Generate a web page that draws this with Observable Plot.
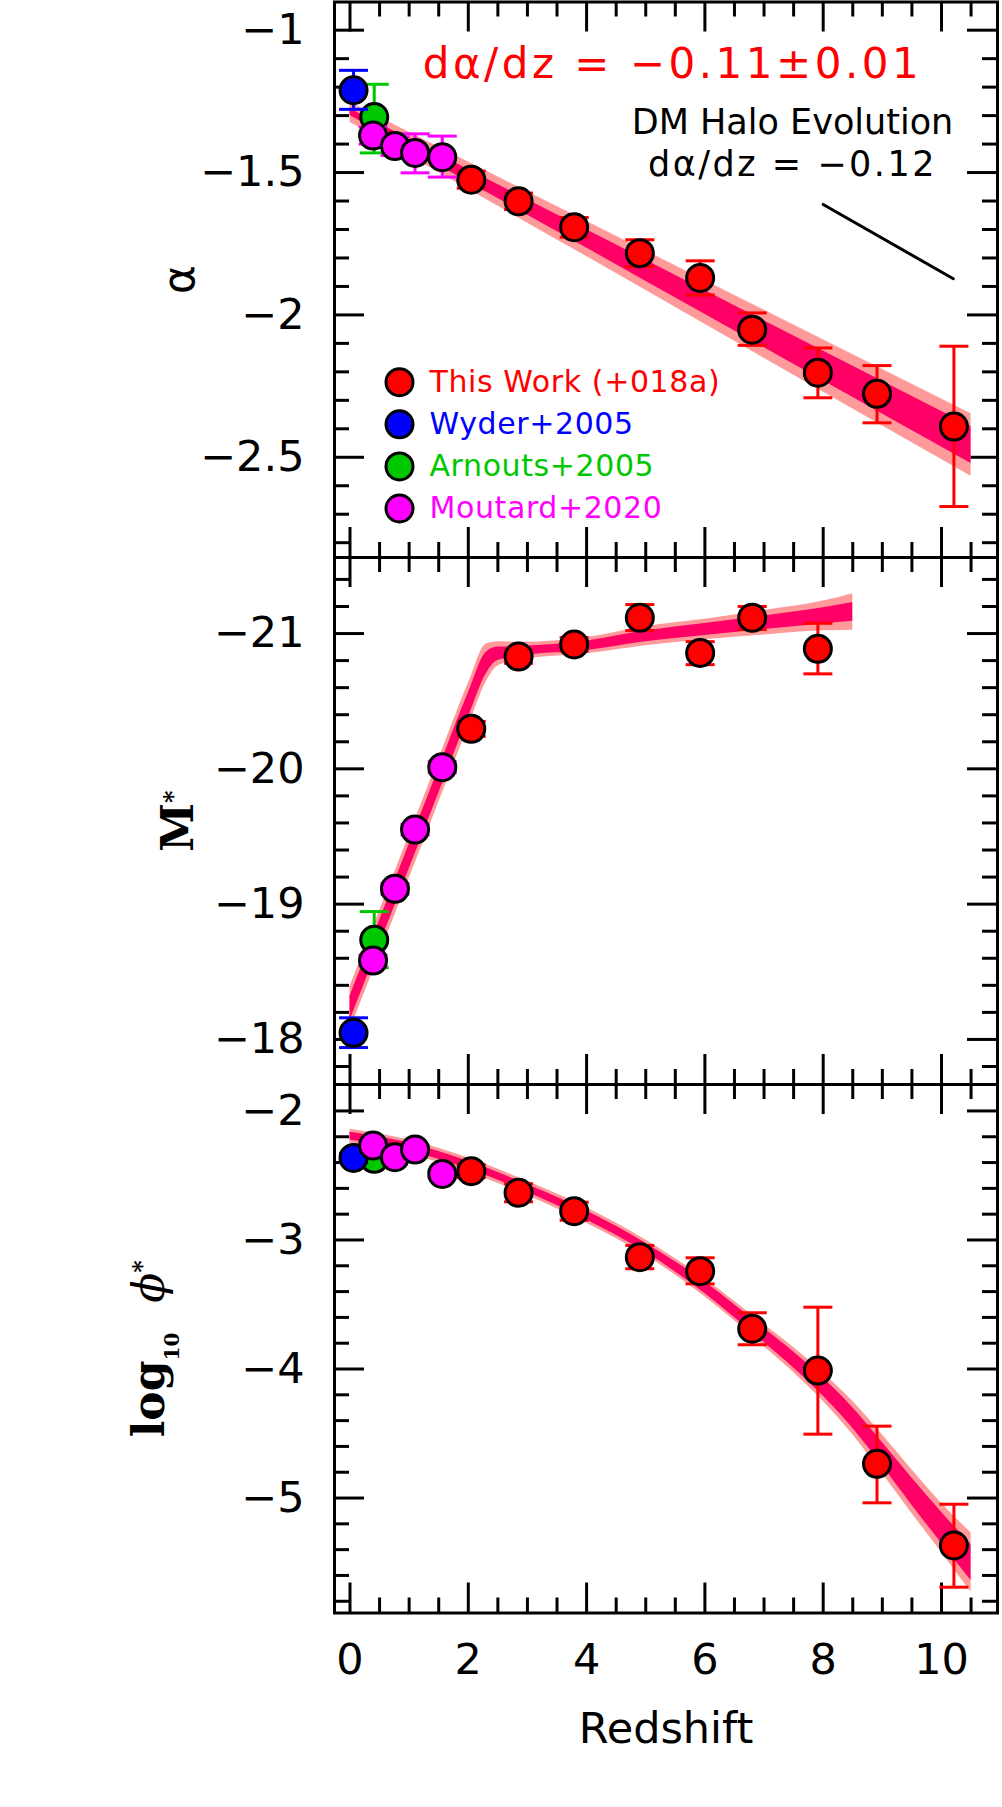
<!DOCTYPE html>
<html>
<head>
<meta charset="utf-8">
<script src="https://cdn.jsdelivr.net/npm/d3@7"></script>
<script src="https://cdn.jsdelivr.net/npm/@observablehq/plot@0.6"></script>
<style>
html, body { margin: 0; padding: 0; background: #fff; }
#chart { position: relative; width: 1002px; height: 1807px; }
#chart svg { position: absolute; left: 0; }
</style>
</head>
<body>
<div id="chart"></div>
<script>
// ---------------- data ----------------
// This Work (red)
const redZ        = [2.05, 2.85, 3.79, 4.90, 5.92, 6.80, 7.91, 8.91, 10.21];
const redAlpha    = [-1.525, -1.601, -1.692, -1.783, -1.870, -2.052, -2.203, -2.277, -2.392];
const redAlphaLo  = [-1.555, -1.630, -1.727, -1.830, -1.930, -2.107, -2.291, -2.379, -2.673];
const redAlphaHi  = [-1.495, -1.572, -1.658, -1.736, -1.810, -1.993, -2.116, -2.178, -2.110];
const redMZ       = [2.05, 2.85, 3.79, 4.90, 5.92, 6.80, 7.91];
const redM        = [-20.296, -20.830, -20.919, -21.116, -20.857, -21.116, -20.887];
const redMLo      = [-20.24, -20.78, -20.87, -21.022, -20.77, -21.03, -20.702];
const redMHi      = [-20.35, -20.88, -20.97, -21.214, -20.94, -21.20, -21.076];
const redPhi      = [-2.467, -2.634, -2.777, -3.133, -3.242, -3.688, -4.012, -4.735, -5.368];
const redPhiLo    = [-2.517, -2.704, -2.847, -3.223, -3.340, -3.812, -4.505, -5.037, -5.691];
const redPhiHi    = [-2.417, -2.564, -2.707, -3.043, -3.138, -3.564, -3.521, -4.443, -5.048];
// Wyder+2005 (blue)
const blueZ = [0.06];
const blueAlpha = [-1.211], blueAlphaLo = [-1.278], blueAlphaHi = [-1.141];
const blueM = [-18.049], blueMLo = [-17.94], blueMHi = [-18.16];
const bluePhi = [-2.364], bluePhiLo = [-2.40], bluePhiHi = [-2.33];
// Arnouts+2005 (green)
const greenZ = [0.41];
const greenAlpha = [-1.305], greenAlphaLo = [-1.431], greenAlphaHi = [-1.190];
const greenM = [-18.736], greenMLo = [-18.53], greenMHi = [-18.945];
const greenPhi = [-2.371], greenPhiLo = [-2.41], greenPhiHi = [-2.33];
// Moutard+2020 (magenta)
const magZ = [0.39, 0.76, 1.10, 1.56];
const magAlpha = [-1.370, -1.407, -1.431, -1.446];
const magAlphaLo = [-1.400, -1.440, -1.501, -1.516];
const magAlphaHi = [-1.340, -1.375, -1.364, -1.372];
const magM = [-18.583, -19.113, -19.551, -20.012];
const magMLo = [-18.543, -19.073, -19.511, -19.972];
const magMHi = [-18.623, -19.153, -19.591, -20.052];
const magPhi = [-2.268, -2.358, -2.299, -2.488];
const magPhiLo = [-2.298, -2.388, -2.329, -2.518];
const magPhiHi = [-2.238, -2.328, -2.269, -2.458];

// fit bands: centre and half-widths (inner dark / outer light)
const alphaBandZ     = [0, 2, 4, 6, 8, 10.5];
const alphaBandMid   = [-1.288, -1.511, -1.733, -1.956, -2.179, -2.457];
const alphaBandInner = [0.012, 0.022, 0.032, 0.042, 0.052, 0.065];
const alphaBandOuter = [0.035, 0.048, 0.062, 0.077, 0.092, 0.11];

const mBandZ     = [0, 0.5, 1, 1.5, 2, 2.3, 2.5, 2.9, 4, 5, 6, 7, 8, 8.5];
const mBandMid   = [-18.23, -18.79, -19.35, -19.91, -20.47, -20.78, -20.85, -20.87, -20.91, -20.98, -21.03, -21.08, -21.13, -21.16];
const mBandInner = [0.09, 0.09, 0.09, 0.09, 0.09, 0.08, 0.05, 0.035, 0.035, 0.04, 0.045, 0.05, 0.06, 0.07];
const mBandOuter = [0.16, 0.16, 0.16, 0.16, 0.16, 0.14, 0.09, 0.065, 0.06, 0.07, 0.075, 0.09, 0.11, 0.135];

const phiBandZ     = [0, 1, 2, 3, 4, 5, 6, 7, 7.5, 8, 8.5, 9, 9.5, 10, 10.5];
const phiBandMid   = [-2.196, -2.28, -2.42, -2.60, -2.81, -3.06, -3.37, -3.74, -3.93, -4.14, -4.38, -4.66, -4.95, -5.23, -5.50];
const phiBandInner = [0.03, 0.03, 0.03, 0.03, 0.035, 0.035, 0.045, 0.055, 0.062, 0.07, 0.08, 0.09, 0.105, 0.12, 0.14];
const phiBandOuter = [0.055, 0.055, 0.055, 0.055, 0.06, 0.06, 0.07, 0.085, 0.097, 0.11, 0.13, 0.15, 0.17, 0.19, 0.23];

// DM halo evolution slope line
const dmZ = [8.0, 10.2];
const dmAlpha = [-1.612, -1.873];

// legend
const legendLabels = ["This Work (+018a)", "Wyder+2005", "Arnouts+2005", "Moutard+2020"];
const legendColors = ["#ff0000", "#0000ff", "#00c800", "#ff00ff"];

// ticks
const xMajor = [0, 2, 4, 6, 8, 10];
const xMinor = [0.5, 1, 1.5, 2.5, 3, 3.5, 4.5, 5, 5.5, 6.5, 7, 7.5, 8.5, 9, 9.5, 10.5];
const alphaMajor = [-1, -1.5, -2, -2.5];
const alphaMinor = [-1.1, -1.2, -1.3, -1.4, -1.6, -1.7, -1.8, -1.9, -2.1, -2.2, -2.3, -2.4, -2.6, -2.7, -2.8];
const mMajor = [-21, -20, -19, -18];
const mMinor = [-21.4, -21.2, -20.8, -20.6, -20.4, -20.2, -19.8, -19.6, -19.4, -19.2, -18.8, -18.6, -18.4, -18.2, -17.8];
const phiMajor = [-2, -3, -4, -5];
const phiMinor = [-2.2, -2.4, -2.6, -2.8, -3.2, -3.4, -3.6, -3.8, -4.2, -4.4, -4.6, -4.8, -5.2, -5.4, -5.6, -5.8];

// ---------------- helpers ----------------
const COLORS = {red: "#ff0000", blue: "#0000ff", green: "#00c800", magenta: "#ff00ff"};
const BAND_IN = "#ff0066", BAND_OUT = "#ff9a9a";
const W = 1002, ML = 334, MR = 5;
const X_DOMAIN = [-0.262, 10.947];
const cap = {draw(ctx) { ctx.moveTo(-14.5, 0); ctx.lineTo(14.5, 0); }};
const minus = d => String(d).replace("-", "\u2212");

function rows(z, y, lo, hi) { return z.map((d, i) => ({z: d, y: y[i], lo: lo[i], hi: hi[i]})); }
function band(z, mid, inner, outer) {
  return z.map((d, i) => ({z: d, oLo: mid[i] - outer[i], oHi: mid[i] + outer[i], iLo: mid[i] - inner[i], iHi: mid[i] + inner[i]}));
}
function bandMarks(b) {
  return [
    Plot.areaY(b, {x: "z", y1: "oLo", y2: "oHi", fill: BAND_OUT, curve: "monotone-x"}),
    Plot.areaY(b, {x: "z", y1: "iLo", y2: "iHi", fill: BAND_IN, curve: "monotone-x"})
  ];
}
function series(r, color) {
  return [
    Plot.ruleX(r, {x: "z", y1: "lo", y2: "hi", stroke: color, strokeWidth: 3}),
    Plot.dot(r, {x: "z", y: "lo", symbol: cap, r: 1, fill: "none", stroke: color, strokeWidth: 3}),
    Plot.dot(r, {x: "z", y: "hi", symbol: cap, r: 1, fill: "none", stroke: color, strokeWidth: 3}),
    Plot.dot(r, {x: "z", y: "y", r: 13.5, fill: color, stroke: "black", strokeWidth: 3})
  ];
}
function frameTicks(height, mt, mb, yMajor, yMinor) {
  const pw = W - ML - MR, ph = height - mt - mb;
  const s = {strokeWidth: 3, stroke: "black"};
  return [
    Plot.tickY(yMajor, {y: d => d, insetRight: pw - 30, ...s}),
    Plot.tickY(yMajor, {y: d => d, insetLeft: pw - 30, ...s}),
    Plot.tickY(yMinor, {y: d => d, insetRight: pw - 15, ...s}),
    Plot.tickY(yMinor, {y: d => d, insetLeft: pw - 15, ...s}),
    Plot.tickX(xMajor, {x: d => d, insetBottom: ph - 30, ...s}),
    Plot.tickX(xMajor, {x: d => d, insetTop: ph - 30, ...s}),
    Plot.tickX(xMinor, {x: d => d, insetBottom: ph - 15, ...s}),
    Plot.tickX(xMinor, {x: d => d, insetTop: ph - 15, ...s}),
    Plot.frame({stroke: "black", strokeWidth: 3}),
    Plot.axisY(yMajor, {anchor: "left", tickSize: 0, tickPadding: 30, fontSize: 43, label: null, tickFormat: minus})
  ];
}
function panel({height, mt, mb, yDomain, yMajor, yMinor, marks}) {
  return Plot.plot({
    width: W, height, marginLeft: ML, marginRight: MR, marginTop: mt, marginBottom: mb,
    x: {domain: X_DOMAIN, axis: null},
    y: {domain: yDomain, axis: null},
    style: {fontFamily: "DejaVu Sans", background: "transparent", overflow: "visible", color: "black"},
    marks: [...frameTicks(height, mt, mb, yMajor, yMinor), ...marks]
  });
}
function restyle(svg, content, fn) {
  d3.select(svg).selectAll("text")
    .filter(function () { return this.textContent === content; })
    .each(function () { fn(d3.select(this)); });
}

// ---------------- panel 1: alpha ----------------
const legendMarks = legendLabels.flatMap((lab, i) => [
  Plot.dot([lab], {frameAnchor: "top-left", dx: 65, dy: 380.2 + 42.1 * i, r: 13.5, fill: legendColors[i], stroke: "black", strokeWidth: 3}),
  Plot.text([lab], {text: d => d, frameAnchor: "top-left", lineAnchor: "middle", dx: 95, dy: 380.2 + 42.1 * i, textAnchor: "start", fill: legendColors[i], fontSize: 30, fontFamily: "DejaVu Sans"})
]);

const RED_TXT = "d\u03b1/dz = \u22120.11\u00b10.01";
const DM_TXT = "d\u03b1/dz = \u22120.12";
const p1 = panel({
  height: 557, mt: 1.5, mb: 0, yDomain: [-2.852, -0.901], yMajor: alphaMajor, yMinor: alphaMinor,
  marks: [
    ...bandMarks(band(alphaBandZ, alphaBandMid, alphaBandInner, alphaBandOuter)),
    Plot.line(dmZ.map((z, i) => ({z, a: dmAlpha[i]})), {x: "z", y: "a", stroke: "black", strokeWidth: 3}),
    Plot.text([RED_TXT], {text: d => d, frameAnchor: "top-left", lineAnchor: "middle", dx: 338, dy: 62.1, textAnchor: "middle", fill: "#ff0000", fontSize: 42, fontFamily: "DejaVu Sans"}),
    Plot.text(["DM Halo Evolution"], {text: d => d, frameAnchor: "top-left", lineAnchor: "middle", dx: 458, dy: 120.3, textAnchor: "middle", fill: "black", fontSize: 35, fontFamily: "DejaVu Sans"}),
    Plot.text([DM_TXT], {text: d => d, frameAnchor: "top-left", lineAnchor: "middle", dx: 458, dy: 162.3, textAnchor: "middle", fill: "black", fontSize: 35, fontFamily: "DejaVu Sans"}),
    Plot.text(["\u03b1"], {text: d => d, frameAnchor: "left", lineAnchor: "middle", textAnchor: "middle", dx: -155, rotate: -90, fontSize: 44, fontFamily: "DejaVu Sans", fill: "black"}),
    ...legendMarks,
    ...series(rows(redZ, redAlpha, redAlphaLo, redAlphaHi), COLORS.red),
    ...series(rows(greenZ, greenAlpha, greenAlphaLo, greenAlphaHi), COLORS.green),
    ...series(rows(blueZ, blueAlpha, blueAlphaLo, blueAlphaHi), COLORS.blue),
    ...series(rows(magZ, magAlpha, magAlphaLo, magAlphaHi), COLORS.magenta)
  ]
});
restyle(p1, RED_TXT, t => t.style("letter-spacing", "3.5px"));
restyle(p1, DM_TXT, t => t.style("letter-spacing", "2.5px"));
legendLabels.forEach(l => restyle(p1, l, t => t.style("letter-spacing", "0.6px")));

// ---------------- panel 2: M* ----------------
const p2 = panel({
  height: 527, mt: 0, mb: 0, yDomain: [-17.667, -21.562], yMajor: mMajor, yMinor: mMinor,
  marks: [
    ...bandMarks(band(mBandZ, mBandMid, mBandInner, mBandOuter)),
    Plot.text(["M*"], {text: d => d, frameAnchor: "left", lineAnchor: "middle", textAnchor: "middle", dx: -156, rotate: -90, fontSize: 44, fontWeight: "bold", fontFamily: "DejaVu Serif", fill: "black"}),
    ...series(rows(redMZ, redM, redMLo, redMHi), COLORS.red),
    ...series(rows(greenZ, greenM, greenMLo, greenMHi), COLORS.green),
    ...series(rows(blueZ, blueM, blueMLo, blueMHi), COLORS.blue),
    ...series(rows(magZ, magM, magMLo, magMHi), COLORS.magenta)
  ]
});
restyle(p2, "M*", t => {
  t.text(null);
  t.append("tspan").text("M");
  t.append("tspan").attr("font-size", 24).attr("dy", -12).text("*");
});

// ---------------- panel 3: log10 phi* ----------------
const PHI_TXT = "log10 \u03d5*";
const p3 = panel({
  height: 723, mt: 0, mb: 194.5, yDomain: [-5.891, -1.795], yMajor: phiMajor, yMinor: phiMinor,
  marks: [
    ...bandMarks(band(phiBandZ, phiBandMid, phiBandInner, phiBandOuter)),
    Plot.axisX(xMajor, {anchor: "bottom", tickSize: 0, tickPadding: 30, fontSize: 43, label: null, tickFormat: d => String(d)}),
    Plot.text(["Redshift"], {text: d => d, frameAnchor: "bottom", lineAnchor: "middle", dy: 116, fontSize: 43, fontFamily: "DejaVu Sans", fill: "black"}),
    Plot.text([PHI_TXT], {text: d => d, frameAnchor: "left", lineAnchor: "middle", textAnchor: "middle", dx: -185, rotate: -90, fontSize: 44, fontWeight: "bold", fontFamily: "DejaVu Serif", fill: "black"}),
    ...series(rows(redZ, redPhi, redPhiLo, redPhiHi), COLORS.red),
    ...series(rows(greenZ, greenPhi, greenPhiLo, greenPhiHi), COLORS.green),
    ...series(rows(blueZ, bluePhi, bluePhiLo, bluePhiHi), COLORS.blue),
    ...series(rows(magZ, magPhi, magPhiLo, magPhiHi), COLORS.magenta)
  ]
});
restyle(p3, PHI_TXT, t => {
  t.text(null);
  t.append("tspan").text("log");
  t.append("tspan").attr("font-size", 20).attr("dy", 15).text("10");
  t.append("tspan").attr("dy", -15).attr("dx", 30).attr("font-style", "italic").attr("font-weight", "normal").text("\u03d5");
  t.append("tspan").attr("font-size", 24).attr("dy", -14).text("*");
});

const chart = document.getElementById("chart");
p1.style.top = "0px";
p2.style.top = "557px";
p3.style.top = "1084px";
chart.append(p1, p2, p3);
</script>
</body>
</html>
